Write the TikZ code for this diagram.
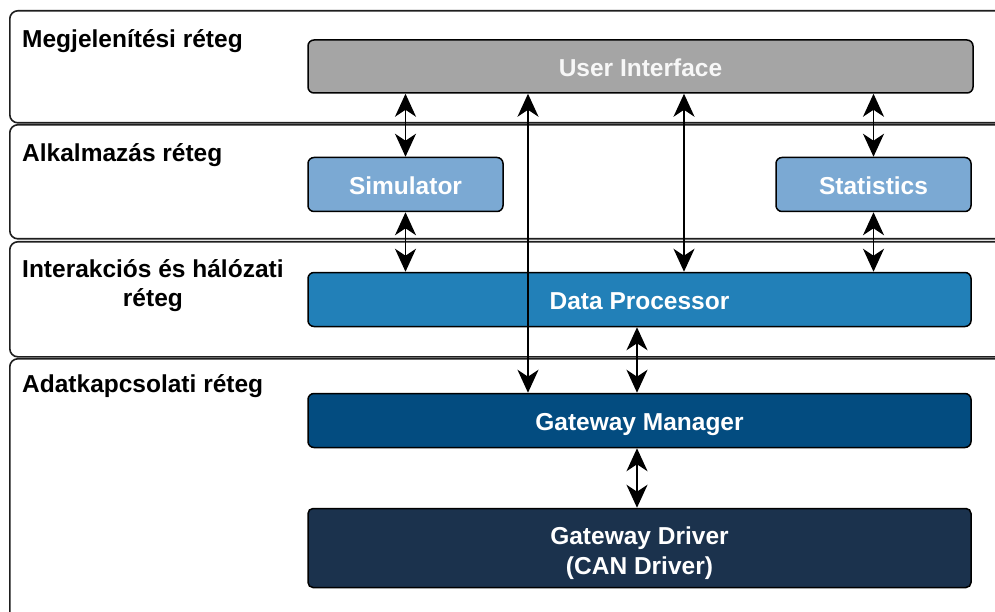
\documentclass[tikz,border=0pt]{standalone}
\usepackage{fontspec}
\setmainfont{Liberation Sans}
\usetikzlibrary{arrows.meta}
\definecolor{bandline}{HTML}{1E1E1E}
\definecolor{uigray}{HTML}{A5A5A5}
\definecolor{applight}{HTML}{7BA9D3}
\definecolor{procblue}{HTML}{2280B8}
\definecolor{mgrblue}{HTML}{034C80}
\definecolor{drvnavy}{HTML}{1B324D}
\tikzset{
  band/.style={draw=bandline, line width=1.6pt, fill=white, rounded corners=8pt,
    anchor=north west, inner sep=0pt, minimum width=1020pt},
  bandlabel/.style={anchor=north west, inner sep=0pt, align=center,
    font=\fontsize{24.5}{29}\selectfont\bfseries, text=black},
  compfont/.style={text=white, font=\fontsize{24.5}{30}\selectfont\bfseries},
  comp/.style={draw=black, line width=1.5pt, rounded corners=6pt, inner sep=0pt,
    compfont, text height=21pt, text depth=0.5pt},
  link/.style={line width=1.9pt, black, {Stealth[length=23pt,width=21pt,inset=7pt]}-{Stealth[length=23pt,width=21pt,inset=7pt]}}
}
\begin{document}
\begin{tikzpicture}[x=1pt,y=-1pt]
  \useasboundingbox (0,0) rectangle (995,612);
  \clip (0,0) rectangle (995,612);
  \fill[white] (0,0) rectangle (995,612);

  % layer bands
  \node[band, minimum height=112pt] (l1) at (9,10) {};
  \node[band, minimum height=114pt] (l2) at (9,124) {};
  \node[band, minimum height=115pt] (l3) at (9,241) {};
  \node[band, minimum height=300pt] (l4) at (9,358) {};

  % layer names
  \node[bandlabel] (t1) at (22,29.5) {Megjelenítési réteg};
  \node[bandlabel] (t2) at (22,143.5) {Alkalmazás réteg};
  \node[bandlabel] (t3) at (22,259.5) {Interakciós és hálózati\\réteg};
  \node[bandlabel] (t4) at (22,374.5) {Adatkapcsolati réteg};

  % components
  \node[comp, fill=uigray, text=white!97!black, minimum width=665pt, minimum height=53pt] (ui) at (640.5,66.5) {User Interface};
  \node[comp, fill=applight, minimum width=195pt, minimum height=54pt] (sim) at (405.5,184.5) {Simulator};
  \node[comp, fill=applight, minimum width=195pt, minimum height=54pt] (stat) at (873.5,184.5) {Statistics};
  \node[comp, fill=procblue, minimum width=663pt, minimum height=54pt] (dp) at (639.5,299.5) {Data Processor};
  \node[comp, fill=mgrblue, minimum width=663pt, minimum height=54pt] (gm) at (639.5,420.5) {Gateway Manager};
  \node[draw=black, line width=1.5pt, rounded corners=5pt, inner sep=0pt, fill=drvnavy,
        minimum width=663pt, minimum height=79pt,
        label={[compfont, align=center, yshift=-5pt]center:Gateway Driver\\(CAN Driver)}] (gd) at (639.5,548) {};

  % connections
  \draw[link] (ui.south -| sim.north) -- (sim.north);
  \draw[link] (sim.south) -- (dp.north -| sim.south);
  \draw[link] (ui.south -| stat.north) -- (stat.north);
  \draw[link] (stat.south) -- (dp.north -| stat.south);
  \draw[link] ([xshift=-112.5pt]ui.south) -- ([xshift=-111.5pt]gm.north);
  \draw[link] ([xshift=43.5pt]ui.south) -- ([xshift=44.5pt]dp.north);
  \draw[link] ([xshift=-2.5pt]dp.south) -- ([xshift=-2.5pt]gm.north);
  \draw[link] ([xshift=-2.5pt]gm.south) -- ([xshift=-2.5pt]gd.north);
\end{tikzpicture}
\end{document}
